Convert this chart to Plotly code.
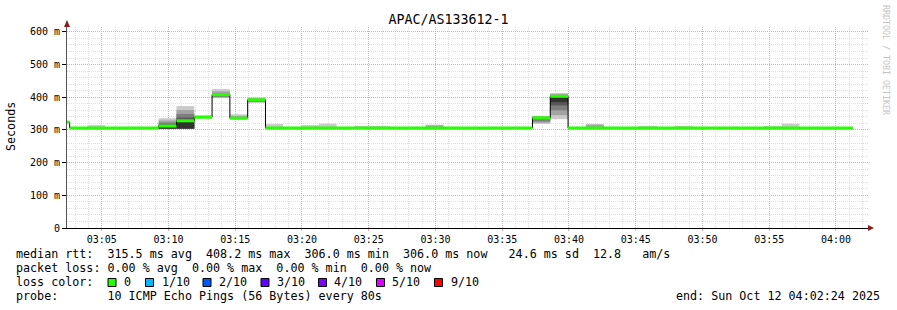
import plotly.graph_objects as go
import pandas as pd

# ---------------- data ----------------
title_text = "APAC/AS133612-1"
start_time = "2025-10-12 03:01:16"   # start of first (partially visible) 80 s step
step_seconds = 80
view_start = "2025-10-12 03:02:24"
view_end = "2025-10-12 04:02:24"

# median rtt per 80 s step (ms)
median = [324, 306, 306, 306, 306, 306, 312, 328, 339, 408, 336, 392,
          306, 306, 306, 306, 306, 306, 306, 306, 306, 306, 306, 306, 306, 306, 306,
          337, 403,
          306, 306, 306, 306, 306, 306, 306, 306, 306, 306, 306, 306, 306, 306, 306, 306]

# smoke bands (step index -> (low, high) in ms), outermost (lightest) first
smoke_band1 = {2: (306, 315), 6: (304, 336), 7: (304, 373), 8: (335, 345), 9: (397, 425),
               10: (333, 348), 11: (383, 400), 12: (306, 318), 14: (306, 315), 15: (306, 319),
               17: (306, 312), 18: (306, 312), 21: (306, 316), 27: (318, 343), 28: (333, 413),
               30: (306, 318), 33: (306, 312), 35: (306, 312), 40: (306, 312), 41: (306, 319)}
smoke_band2 = {6: (304, 329), 7: (304, 361), 9: (399, 418), 10: (334, 343), 11: (385, 397),
               21: (306, 314), 27: (322, 341), 28: (345, 410), 30: (306, 316)}
smoke_band3 = {6: (304, 323), 7: (304, 349), 9: (401, 412), 11: (386, 394),
               27: (326, 340), 28: (360, 407)}
smoke_band4 = {6: (304, 317), 7: (304, 338), 28: (375, 404)}
smoke_band5 = {6: (304, 311), 7: (304, 328), 28: (385, 402)}
smoke_colors = ["#cacaca", "#a4a4a4", "#7e7e7e", "#585858", "#323232"]

y_tickvals = [0, 100, 200, 300, 400, 500, 600]
y_ticktext = ["0", "100 m", "200 m", "300 m", "400 m", "500 m", "600 m"]

stats_rtt = ["315.5", "408.2", "306.0", "306.0", "24.6", "12.8"]
stats_loss = ["0.00", "0.00", "0.00", "0.00"]
loss_labels = ["0", "1/10", "2/10", "3/10", "4/10", "5/10", "9/10"]
loss_colors = ["#26ff00", "#00b8ff", "#0059ff", "#5e00ff", "#7e00ff", "#dd00ff", "#ff0000"]
probe_text = "10 ICMP Echo Pings (56 Bytes) every 80s"
end_text = "end: Sun Oct 12 04:02:24 2025"
watermark = "RRDTOOL / TOBI OETIKER"

# ---------------- build ----------------
FONT = "DejaVu Sans Mono"
n = len(median)
starts = pd.date_range(start_time, periods=n, freq=f"{step_seconds}s")
ends = starts + pd.Timedelta(seconds=step_seconds)
width_ms = step_seconds * 1000

fig = go.Figure()

for band, col in zip([smoke_band1, smoke_band2, smoke_band3, smoke_band4, smoke_band5], smoke_colors):
    idx = sorted(band)
    fig.add_trace(go.Bar(
        x=[starts[i] for i in idx],
        base=[band[i][0] for i in idx],
        y=[band[i][1] - band[i][0] for i in idx],
        width=width_ms, offset=0,
        marker=dict(color=col, line=dict(width=0)),
        hoverinfo="skip", showlegend=False))

# black median step line
fig.add_trace(go.Scatter(
    x=list(starts) + [ends[-1]], y=median + [median[-1]],
    mode="lines", line=dict(color="#000000", width=1, shape="hv"),
    hoverinfo="skip", showlegend=False))

# green median segments (no vertical joins)
gx, gy = [], []
for s, e, m in zip(starts, ends, median):
    gx += [s, e, None]
    gy += [m, m, None]
fig.add_trace(go.Scatter(
    x=gx, y=gy, mode="lines", line=dict(color="#26ff00", width=3),
    hoverinfo="skip", showlegend=False))

# ---------------- layout ----------------
L, R, T, B = 67, 868, 27, 228
W, H = 897, 310


def px(x):
    return (x - L) / (R - L)


def py(y):
    return (B - y) / (B - T)


MAJ = "#f3a3a3"
MIN = "#dedede"

fig.update_layout(
    width=W, height=H,
    margin=dict(l=L, r=W - R, t=T, b=H - B, pad=0),
    paper_bgcolor="#ffffff", plot_bgcolor="#ffffff",
    barmode="overlay",
    showlegend=False,
    font=dict(family=FONT, size=10, color="#000000"),
    title=dict(text=title_text, x=0.5, xref="container", xanchor="center",
               y=1 - 19 / H, yref="container", yanchor="middle",
               font=dict(family=FONT, size=13.3, color="#000000")),
    xaxis=dict(type="date", range=[view_start, view_end],
               tick0="2025-10-12 03:00:00", dtick=300000, tickformat="%H:%M",
               showgrid=True, gridcolor=MAJ, gridwidth=1, griddash="1px,1px",
               minor=dict(dtick=60000, tick0="2025-10-12 03:00:00", showgrid=True,
                          gridcolor=MIN, gridwidth=1, griddash="1px,1px", ticks=""),
               showline=True, linecolor="#000000", linewidth=1,
               ticks="outside", ticklen=2, tickcolor=MAJ,
               tickfont=dict(family=FONT, size=10, color="#000000"),
               zeroline=False, fixedrange=True),
    yaxis=dict(range=[0, 615], tickvals=y_tickvals, ticktext=y_ticktext,
               showgrid=True, gridcolor=MAJ, gridwidth=1, griddash="1px,1px",
               minor=dict(dtick=20, tick0=0, showgrid=True,
                          gridcolor=MIN, gridwidth=1, griddash="1px,1px", ticks=""),
               showline=True, linecolor="#555555", linewidth=1,
               ticks="outside", ticklen=4, tickcolor="#000000",
               tickfont=dict(family=FONT, size=10, color="#000000"),
               zeroline=False, fixedrange=True),
)

ann = []


def text_at(x, y, s, size=11.7, xanchor="left", color="#000000", angle=0):
    ann.append(dict(x=px(x), y=py(y), xref="paper", yref="paper", text=s.replace(" ", "\u00a0"),
                    showarrow=False, xanchor=xanchor, yanchor="middle", borderpad=0,
                    textangle=angle, font=dict(family=FONT, size=size, color=color)))


text_at(11, 127, "Seconds", angle=-90, xanchor="center")
row1 = (f"median rtt:  {stats_rtt[0]} ms avg  {stats_rtt[1]} ms max  {stats_rtt[2]} ms min  "
        f"{stats_rtt[3]} ms now  {stats_rtt[4]:>5} ms sd  {stats_rtt[5]}   am/s")
row2 = (f"packet loss: {stats_loss[0]} % avg  {stats_loss[1]} % max  {stats_loss[2]} % min  "
        f"{stats_loss[3]} % now")
text_at(15, 254, row1)
text_at(15, 268, row2)
text_at(15, 282, "loss color:")
text_at(15, 296, "probe:       " + probe_text)
text_at(881, 296, end_text, xanchor="right")
text_at(886, 60, watermark, size=8.3, xanchor="center", color="#c4c4c4", angle=90)

box_x = [108, 145.5, 203, 261, 318.5, 376.5, 434.5]
label_x = [122.5, 160.5, 218, 275.5, 333, 391, 449.5]
shapes = []
for bx, lx, lab, col in zip(box_x, label_x, loss_labels, loss_colors):
    shapes.append(dict(type="rect", xref="paper", yref="paper",
                       x0=px(bx), x1=px(bx + 8), y0=py(278.5), y1=py(286.5),
                       fillcolor=col, line=dict(color="#000000", width=1)))
    text_at(lx, 282, lab)

# axis arrows
ARROW = "#8b1c1c"
shapes.append(dict(type="path", xref="paper", yref="paper",
                   path=f"M {px(64)} {py(27)} L {px(70)} {py(27)} L {px(67)} {py(20)} Z",
                   fillcolor=ARROW, line=dict(color=ARROW, width=0)))
shapes.append(dict(type="path", xref="paper", yref="paper",
                   path=f"M {px(868)} {py(225)} L {px(868)} {py(231)} L {px(874)} {py(228)} Z",
                   fillcolor=ARROW, line=dict(color=ARROW, width=0)))

fig.update_layout(annotations=ann, shapes=shapes)

fig.write_html("out.html")
